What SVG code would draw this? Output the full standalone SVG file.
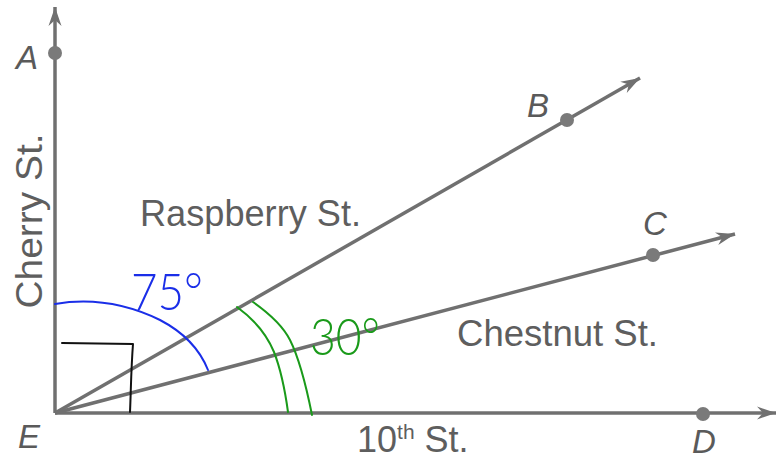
<svg xmlns="http://www.w3.org/2000/svg" width="781" height="461" viewBox="0 0 781 461">
<style>
.ray{stroke:#707070;stroke-width:3.5;fill:none;marker-end:url(#arr)}
.dot{fill:#7a7a7a}
.pt{font-family:"Liberation Sans",Arial,sans-serif;font-style:italic;font-size:33px;fill:#5a5a5a}
.st{font-family:"Liberation Sans",Arial,sans-serif;font-size:36px;fill:#5e5e5e}
.hw{font-family:"Lato","Open Sans",sans-serif;font-weight:300;font-size:52px}
</style>
<defs>
<marker id="arr" markerUnits="userSpaceOnUse" markerWidth="24" markerHeight="16" viewBox="-20 -8 22 16" refX="0" refY="0" orient="auto">
<path d="M0,0 L-19,-6.5 L-13,0 L-19,6.5 Z" fill="#707070"/>
</marker>
</defs>
<g id="connectors">
<line class="ray" x1="55" y1="413" x2="55" y2="7"/>
<line class="ray" x1="55" y1="413" x2="776" y2="413"/>
<line class="ray" x1="55" y1="413" x2="640" y2="78"/>
<line class="ray" x1="55" y1="413" x2="735" y2="234"/>
</g>
<g id="A"><circle class="dot" cx="55" cy="53" r="7"/><text class="pt" x="16" y="69">A</text></g>
<g id="B"><circle class="dot" cx="567" cy="120" r="7"/><text class="pt" x="527" y="117">B</text></g>
<g id="C"><circle class="dot" cx="653" cy="255" r="7"/><text class="pt" x="643" y="235">C</text></g>
<g id="D"><circle class="dot" cx="703" cy="414" r="7"/><text class="pt" x="692" y="453">D</text></g>
<g id="E"><text class="pt" x="18" y="448">E</text></g>
<g id="labels">
<text class="st" transform="translate(42,221) rotate(-90)" text-anchor="middle" textLength="175" lengthAdjust="spacingAndGlyphs">Cherry St.</text>
<text class="st" x="140" y="226" textLength="221" lengthAdjust="spacingAndGlyphs">Raspberry St.</text>
<text class="st" x="457" y="346" textLength="201" lengthAdjust="spacingAndGlyphs">Chestnut St.</text>
<text class="st" x="357" y="452" font-size="34">10<tspan font-size="21" dy="-13">th</tspan><tspan dy="13"> St.</tspan></text>
</g>
<g id="annotations" fill="none" stroke-linecap="round" stroke-linejoin="round">
<path d="M55,304 C90,298 125,303 160,320 C185,333 200,350 208,370" stroke="#1a2ee8" stroke-width="2"/>
<path d="M62,343 L133,344 C131,370 131,390 130,412" stroke="#111" stroke-width="2"/>
<path d="M237,307 C255,320 267,335 274,352 C281,370 285,390 288,412" stroke="#1a9a1a" stroke-width="2"/>
<path d="M253,302 C270,314 283,326 290,340 C300,360 306,385 312,415" stroke="#1a9a1a" stroke-width="2"/>
<text class="hw" x="131" y="310" fill="#1a2ee8" textLength="72" lengthAdjust="spacingAndGlyphs">75°</text>
<text class="hw" x="310" y="355" fill="#1a9a1a" textLength="70" lengthAdjust="spacingAndGlyphs">30°</text>
</g>
</svg>
